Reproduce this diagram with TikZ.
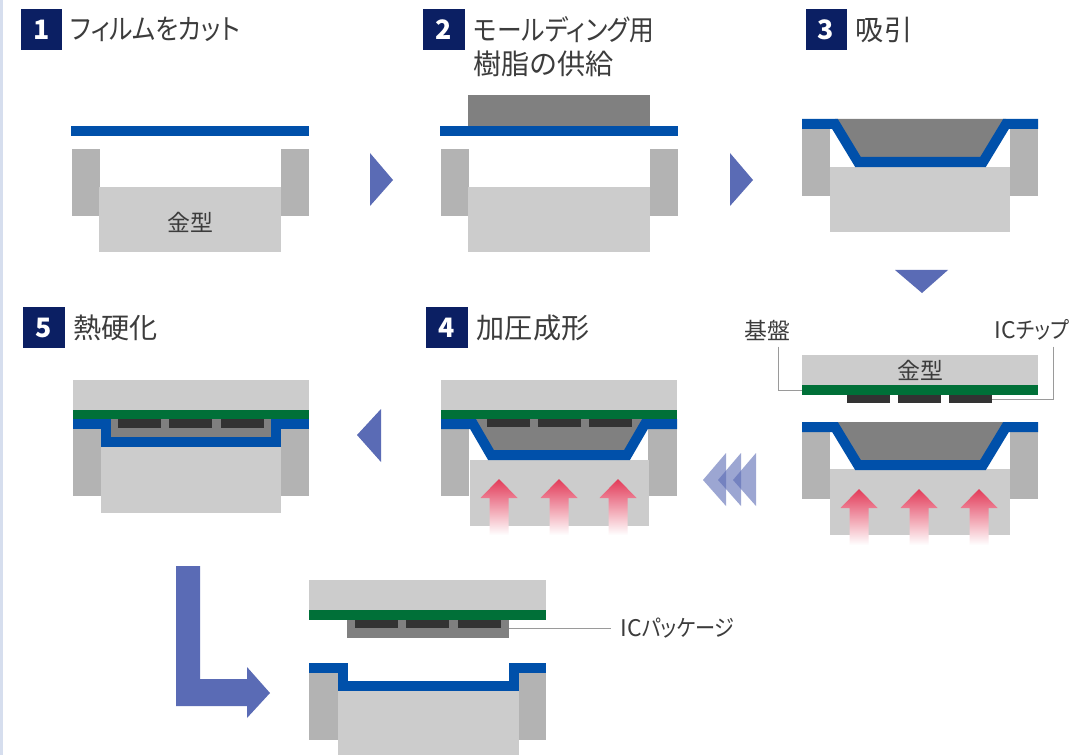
\documentclass[tikz,border=0pt]{standalone}
\usepackage{fontspec}
\setmainfont{Noto Sans CJK JP}[RawFeature=+palt]
\newfontfamily\narrowkana{Noto Sans CJK JP}[RawFeature=+palt, FakeStretch=0.88]
\usetikzlibrary{positioning}

\definecolor{navy}{HTML}{0B1F63}
\definecolor{filmblue}{HTML}{0050AA}
\definecolor{sidegray}{HTML}{B3B3B3}
\definecolor{moldgray}{HTML}{CCCCCC}
\definecolor{resingray}{HTML}{808080}
\definecolor{chipgray}{HTML}{333333}
\definecolor{boardgreen}{HTML}{007038}
\definecolor{arrowblue}{HTML}{5A6BB5}
\definecolor{textgray}{HTML}{3C3C3C}
\definecolor{leadergray}{HTML}{9A9A9A}
\definecolor{heatred}{HTML}{E23A58}
\definecolor{stripblue}{HTML}{D6DEEE}

\tikzset{
    badge/.style={fill=navy, text=white, font=\fontsize{19}{22}\selectfont\bfseries, minimum size=1.025cm, inner sep=0pt},
    steptitle/.style={anchor=west, text=textgray, font=\fontsize{20}{24}\selectfont, inner sep=0pt},
    partlabel/.style={text=textgray, font=\fontsize{16.3}{20}\selectfont, inner sep=0pt},
    film/.style={draw=filmblue, line width=0.25cm, line join=miter},
    leader/.style={draw=leadergray, line width=0.6pt},
    flow/.style={fill=arrowblue},
}

% heat arrow pushing the mold up: centre x, tip y
\newcommand{\heatarrow}[2]{%
    \shade[top color=heatred, middle color=heatred!65!white, bottom color=white]
        (#1,#2) -- ++(18.5,19) -- ++(-9,0) -- ++(0,37) -- ++(-19,0) -- ++(0,-37) -- ++(-9,0) -- cycle;}

\begin{document}
\begin{tikzpicture}[x=0.025cm, y=-0.025cm]

    \useasboundingbox (0,0) rectangle (1073,755);
    \fill[white] (0,0) rectangle (1073,755);
    \fill[stripblue] (0,0) rectangle (3,755);

    % step headings
    \node[badge] (b1) at (41.5,29.5) {1};
    \node[steptitle, right=0.2cm of b1] (t1) {\narrowkana フィルムをカット};

    \node[badge] (b2) at (444,29.5) {2};
    \node[steptitle, right=0.22cm of b2] (t2) {\narrowkana モールディング用};
    \node[steptitle] (t2b) at ([yshift=-0.85cm]t2.west) {樹脂の供給};

    \node[badge] (b3) at (826,29.5) {3};
    \node[steptitle, right=0.22cm of b3] (t3) {吸引};

    \node[badge] (b4) at (447,327.5) {4};
    \node[steptitle, right=0.22cm of b4] (t4) {加圧成形};

    \node[badge] (b5) at (44,327.5) {5};
    \node[steptitle, right=0.2cm of b5] (t5) {熱硬化};

    % 1: film over the empty mold
    \begin{scope}[shift={(72,149)}]
        \fill[sidegray] (0,0) rectangle (28,67);
        \fill[sidegray] (209,0) rectangle (237,67);
        \fill[moldgray] (27,38) rectangle (209,103);
        \node[partlabel] (m1) at (118,73) {金型};
        \fill[filmblue] (-1,-23) rectangle (237,-13);
    \end{scope}

    % 2: resin put on the film
    \begin{scope}[shift={(441,149)}]
        \fill[sidegray] (0,0) rectangle (28,67);
        \fill[sidegray] (209,0) rectangle (237,67);
        \fill[moldgray] (27,38) rectangle (209,103);
        \fill[resingray] (27,-54) rectangle (209,-23);
        \fill[filmblue] (-1,-23) rectangle (237,-13);
    \end{scope}

    % 3: film pulled into the cavity
    \begin{scope}[shift={(802,129)}]
        \fill[sidegray] (0,0) rectangle (28,67);
        \fill[sidegray] (208,0) rectangle (236,67);
        \fill[moldgray] (28,38) rectangle (208,103);
        \fill[resingray] (33,-10) -- (204,-10) -- (181,33) -- (56,33) -- cycle;
        \draw[film] (0,-5) -- (33,-5) -- (56,33) -- (181,33) -- (204,-5) -- (236,-5);
    \end{scope}

    % upper mold with board and chips
    \begin{scope}[shift={(802,355)}]
        \fill[moldgray] (0,0) rectangle (236,30);
        \node[partlabel] (m3) at (118,15) {金型};
        \fill[boardgreen] (0,30) rectangle (236,40);
        \foreach \x in {45,96,147}
            \fill[chipgray] (\x,40) rectangle ++(43,8);
        \coordinate (boardL) at (0,35);
        \coordinate (chipR) at (190,44);
    \end{scope}
    \node[partlabel] (kiban) at (767,330) {基盤};
    \node[partlabel] (icchip) at (1032,330) {IC{\narrowkana チップ}};
    \draw[leader] ([xshift=0.28cm, yshift=-0.15cm]kiban.south) |- (boardL);
    \draw[leader] ([xshift=0.53cm, yshift=-0.15cm]icchip.south) |- (chipR);

    % 3 (cont.): heated lower mold
    \begin{scope}[shift={(802,432)}]
        \fill[sidegray] (0,0) rectangle (28,67);
        \fill[sidegray] (208,0) rectangle (236,67);
        \fill[moldgray] (28,37) rectangle (208,103);
        \foreach \x in {57,117,177}
            \heatarrow{\x}{57}
        \fill[resingray] (33,-10) -- (204,-10) -- (181,33) -- (56,33) -- cycle;
        \draw[film] (0,-5) -- (33,-5) -- (56,33) -- (181,33) -- (204,-5) -- (236,-5);
    \end{scope}

    % 4: press
    \begin{scope}[shift={(441,429)}]
        \fill[sidegray] (0,0) rectangle (28,67);
        \fill[sidegray] (207,0) rectangle (236,67);
        \fill[moldgray] (29,31) rectangle (208,97);
        \foreach \x in {58,118,177}
            \heatarrow{\x}{50}
        \fill[resingray] (32,-10) -- (204,-10) -- (186,26) -- (50,26) -- cycle;
        \foreach \x in {46,97,148}
            \fill[chipgray] (\x,-10) rectangle ++(43,8);
        \draw[film] (0,-5) -- (32,-5) -- (50,26) -- (186,26) -- (204,-5) -- (236,-5);
        \fill[boardgreen] (0,-19) rectangle (236,-10);
        \fill[moldgray] (0,-49) rectangle (236,-19);
    \end{scope}

    % 5: cure
    \begin{scope}[shift={(73,429)}]
        \fill[sidegray] (0,0) rectangle (28,67);
        \fill[sidegray] (208,0) rectangle (236,67);
        \fill[moldgray] (28,18) rectangle (208,84);
        \fill[resingray] (38,-10) rectangle (198,8);
        \foreach \x in {45,96,148}
            \fill[chipgray] (\x,-10) rectangle ++(43,9);
        \draw[film] (0,-5) -- (33,-5) -- (33,13) -- (203,13) -- (203,-5) -- (236,-5);
        \fill[boardgreen] (0,-19) rectangle (236,-10);
        \fill[moldgray] (0,-49) rectangle (236,-19);
    \end{scope}

    % released package
    \begin{scope}[shift={(309,673)}]
        \fill[sidegray] (0,0) rectangle (29,67);
        \fill[sidegray] (210,0) rectangle (237,67);
        \fill[moldgray] (29,18) rectangle (210,83);
        \draw[film] (0,-5) -- (34,-5) -- (34,13) -- (205,13) -- (205,-5) -- (237,-5);
        \fill[moldgray] (0,-93) rectangle (237,-63);
        \fill[boardgreen] (0,-63) rectangle (237,-53);
        \fill[resingray] (38,-53) rectangle (200,-35);
        \foreach \x in {46,97,149}
            \fill[chipgray] (\x,-53) rectangle ++(43,8);
        \coordinate (pkgR) at (200,-45);
        \node[partlabel, anchor=west] (pkg) at (311,-45) {IC{\narrowkana パッケージ}};
    \end{scope}
    \draw[leader] (pkgR) -- ([xshift=-0.225cm]pkg.west);

    % flow arrows
    \fill[flow] (370,153) -- (393,180) -- (370,206) -- cycle;
    \fill[flow] (730,153) -- (753,180) -- (730,206) -- cycle;
    \fill[flow] (895,270) -- (948,270) -- (922,293) -- cycle;
    \fill[flow] (381,409) -- (357,435) -- (381,462) -- cycle;
    \foreach \t in {703,718,733}
        \fill[flow, fill opacity=0.6] (\t,480) -- (\t+23,453) -- (\t+23,506) -- cycle;
    \fill[flow] (176,566) -- (200,566) -- (200,679) -- (247,679) -- (247,667) -- (270,693)
        -- (247,718) -- (247,706) -- (176,706) -- cycle;

\end{tikzpicture}
\end{document}
